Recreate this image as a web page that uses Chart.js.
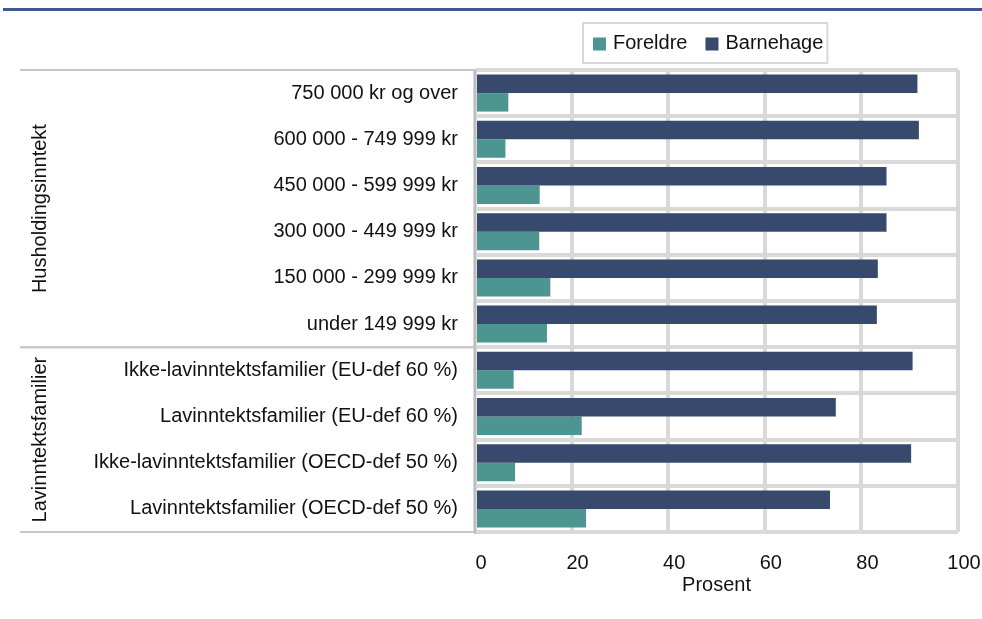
<!DOCTYPE html>
<html>
<head>
<meta charset="utf-8">
<script src="https://cdn.jsdelivr.net/npm/chart.js@4.4.1/dist/chart.umd.min.js"></script>
<style>
  html, body { margin: 0; padding: 0; background: #fff; }
  #wrap { width: 982px; height: 619px; }
</style>
</head>
<body>
<div id="wrap"><canvas id="barChart" width="982" height="619"></canvas></div>
<script>
// categories, top to bottom
const categories = [
    '750 000 kr og over',
    '600 000 - 749 999 kr',
    '450 000 - 599 999 kr',
    '300 000 - 449 999 kr',
    '150 000 - 299 999 kr',
    'under 149 999 kr',
    'Ikke-lavinntektsfamilier (EU-def 60 %)',
    'Lavinntektsfamilier (EU-def 60 %)',
    'Ikke-lavinntektsfamilier (OECD-def 50 %)',
    'Lavinntektsfamilier (OECD-def 50 %)'
];
const groupLabels = ['Husholdingsinntekt', 'Lavinntektsfamilier'];
const groupStart = [0, 6];
const groupEnd = [5, 9];

const foreldre = [6.9, 6.3, 13.4, 13.3, 15.6, 14.9, 8.0, 22.1, 8.3, 23.0];
const barnehage = [91.6, 91.9, 85.2, 85.2, 83.4, 83.2, 90.6, 74.7, 90.3, 73.5];
const xTicks = [0, 20, 40, 60, 80, 100];

const colForeldre = '#4c9591';
const colBarnehage = '#374a6d';
const gridCol = '#d9d9d9';
const fontFam = '"Liberation Sans", Arial, sans-serif';

// white background + blue rule at the top
const decorPlugin = {
    id: 'decor',
    beforeDraw(chart) {
        const ctx = chart.ctx;
        ctx.save();
        ctx.fillStyle = '#fff';
        ctx.fillRect(0, 0, chart.width, chart.height);
        ctx.strokeStyle = '#3e5b8b';
        ctx.lineWidth = 3;
        ctx.beginPath();
        ctx.moveTo(3, 9.5);
        ctx.lineTo(chart.width, 9.5);
        ctx.stroke();
        ctx.restore();
    }
};

// group brackets on the left (multi-level category axis)
const groupPlugin = {
    id: 'groups',
    afterDraw(chart) {
        const ctx = chart.ctx;
        const y = chart.scales.y;
        const step = y.getPixelForValue(1) - y.getPixelForValue(0);
        const left = chart.chartArea.left;
        ctx.save();
        ctx.strokeStyle = '#c6c6c6';
        ctx.lineWidth = 2;
        ctx.fillStyle = '#111';
        ctx.font = '20px ' + fontFam;
        ctx.textAlign = 'center';
        ctx.textBaseline = 'alphabetic';
        for (let i = 0; i < groupLabels.length; i++) {
            const top = y.getPixelForValue(groupStart[i]) - step / 2;
            const bottom = y.getPixelForValue(groupEnd[i]) + step / 2;
            ctx.beginPath();
            ctx.moveTo(20, top);
            ctx.lineTo(left, top);
            ctx.moveTo(20, bottom);
            ctx.lineTo(left, bottom);
            ctx.stroke();
            ctx.save();
            ctx.translate(45.5, (top + bottom) / 2);
            ctx.rotate(-Math.PI / 2);
            ctx.fillText(groupLabels[i], 0, 0);
            ctx.restore();
        }
        ctx.restore();
    }
};

// boxed legend, Foreldre first
const legendPlugin = {
    id: 'boxLegend',
    afterDraw(chart) {
        const ctx = chart.ctx;
        const items = [chart.data.datasets[1], chart.data.datasets[0]];
        ctx.save();
        ctx.font = '20px ' + fontFam;
        ctx.textBaseline = 'middle';
        const boxL = 583, boxT = 23, boxH = 40;
        let x = boxL + 10;
        const cy = boxT + boxH / 2;
        const pos = [];
        items.forEach(ds => {
            pos.push(x);
            x += 13 + 7 + ctx.measureText(ds.label).width + 18;
        });
        const boxR = x - 18 + 4;
        ctx.strokeStyle = gridCol;
        ctx.lineWidth = 2;
        ctx.strokeRect(boxL, boxT, boxR - boxL, boxH);
        items.forEach((ds, i) => {
            ctx.fillStyle = ds.backgroundColor;
            ctx.fillRect(pos[i], cy - 5.5, 13, 13);
            ctx.fillStyle = '#111';
            ctx.fillText(ds.label, pos[i] + 20, cy);
        });
        ctx.restore();
    }
};

const data = {
    labels: categories,
    datasets: [
        { label: 'Barnehage', data: barnehage, backgroundColor: colBarnehage },
        { label: 'Foreldre', data: foreldre, backgroundColor: colForeldre }
    ]
};

const options = {
    indexAxis: 'y',
    responsive: false,
    animation: false,
    devicePixelRatio: 1,
    layout: { padding: { left: 0, right: 24, top: 70, bottom: 22 } },
    datasets: {
        bar: { categoryPercentage: 0.8, barPercentage: 1.0, borderWidth: 0 }
    },
    plugins: {
        legend: { display: false },
        tooltip: { enabled: false }
    },
    scales: {
        x: {
            min: 0,
            max: 100,
            afterBuildTicks: function (scale) {
                scale.ticks = xTicks.map(v => ({ value: v }));
            },
            afterFit: function (scale) {
                scale.height = 65;
                scale.paddingLeft = 0;
                scale.paddingRight = 0;
            },
            grid: { color: gridCol, lineWidth: 4, drawTicks: false },
            border: { display: false },
            ticks: {
                color: '#111',
                font: { family: fontFam, size: 20 },
                padding: 19,
                labelOffset: 6,
                maxRotation: 0
            },
            title: {
                display: true,
                text: 'Prosent',
                color: '#111',
                font: { family: fontFam, size: 20 },
                padding: { top: 0, bottom: 0 }
            }
        },
        y: {
            afterFit: function (scale) {
                scale.width = 475;
                scale.paddingTop = 0;
                scale.paddingBottom = 0;
            },
            grid: { color: gridCol, lineWidth: 4, drawTicks: false, offset: true },
            border: { display: true, color: '#bdbdbd', width: 2 },
            ticks: {
                color: '#111',
                font: { family: fontFam, size: 20 },
                padding: 17,
                autoSkip: false
            }
        }
    }
};

const ctx = document.getElementById('barChart').getContext('2d');
new Chart(ctx, {
    type: 'bar',
    data: data,
    options: options,
    plugins: [decorPlugin, groupPlugin, legendPlugin]
});
</script>
</body>
</html>
